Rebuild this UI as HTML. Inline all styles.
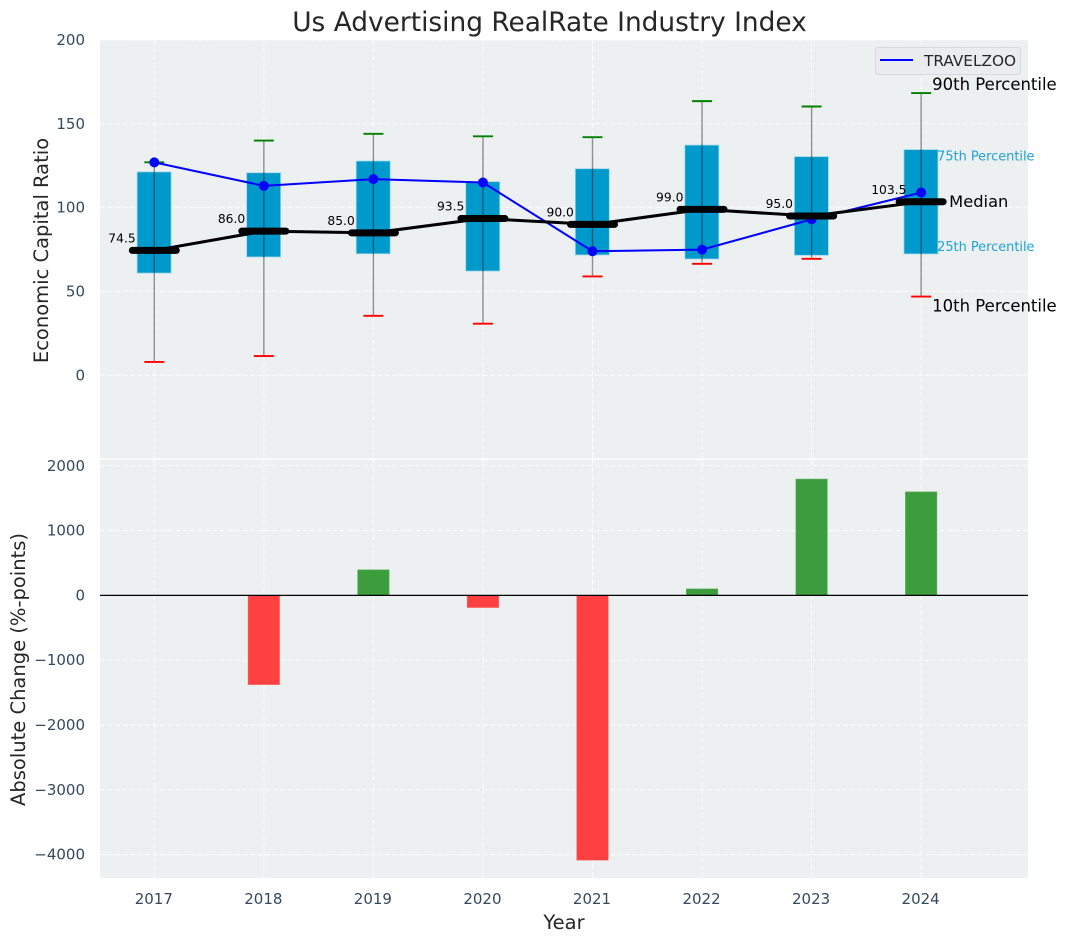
<!DOCTYPE html>
<html lang="en">
<head>
<meta charset="utf-8">
<title>Us Advertising RealRate Industry Index</title>
<style>
html,body{margin:0;padding:0;background:#fff;}
svg{display:block;font-family:"DejaVu Sans","Liberation Sans",sans-serif;}
</style>
</head>
<body>
<svg id="chart" width="1067" height="942" viewBox="0 0 1067 942" xmlns="http://www.w3.org/2000/svg"></svg>
<script>
const years = [2017, 2018, 2019, 2020, 2021, 2022, 2023, 2024];
const p10 = [8, 11.5, 35.5, 30.8, 59, 66.5, 69.5, 47];
const p25 = [61, 70.6, 72.5, 62.2, 71.8, 69.4, 71.6, 72.4];
const medians = [74.5, 86, 85, 93.5, 90, 99, 95, 103.5];
const p75 = [121.3, 120.8, 127.8, 115.5, 123.2, 137.3, 130.4, 134.6];
const p90 = [127, 140, 144, 142.5, 142, 163.5, 160.3, 168.3];
const company = [127, 113, 117, 115, 74, 75, 93, 109];
const changes = [0, -1376, 394, -187, -4085, 100, 1795, 1597];
const topTicks = [0, 50, 100, 150, 200];
const bottomTicks = [-4000, -3000, -2000, -1000, 0, 1000, 2000];

const svg = document.getElementById('chart');
const NS = 'http://www.w3.org/2000/svg';
const LEFT = 100, RIGHT = 1028;
const TOP1 = 40, BOT1 = 458.5, TOP2 = 460, BOT2 = 878;

function x(v) { return 154.3 + (v - 2017) * 109.55; }
function yTop(v) { return 375.4 - v * 1.6775; }
function yBot(v) { return 595.4 - v * 0.0648; }

function make(tag, attrs, parent, text) {
  const el = document.createElementNS(NS, tag);
  for (const k in attrs) el.setAttribute(k, attrs[k]);
  if (text !== undefined) el.textContent = text;
  (parent || svg).appendChild(el);
  return el;
}
function group(name) {
  const g = make('g', {});
  
  
  return g;
}

const bgTop = make('rect', {x: LEFT, y: TOP1, width: RIGHT - LEFT, height: BOT1 - TOP1, fill: '#ecf0f1'});


const bgBot = make('rect', {x: LEFT, y: TOP2, width: RIGHT - LEFT, height: BOT2 - TOP2, fill: '#ecf0f1'});



const gridG = group('grid-lines');
const gridStyle = {stroke: '#ffffff', 'stroke-width': 1, 'stroke-dasharray': '5 2.5', 'stroke-opacity': 0.85, fill: 'none'};
years.forEach(function (yr) {
  make('line', Object.assign({x1: x(yr), x2: x(yr), y1: TOP1, y2: BOT1}, gridStyle), gridG);
  make('line', Object.assign({x1: x(yr), x2: x(yr), y1: TOP2, y2: BOT2}, gridStyle), gridG);
});
topTicks.forEach(function (t) {
  make('line', Object.assign({x1: LEFT, x2: RIGHT, y1: yTop(t), y2: yTop(t)}, gridStyle), gridG);
});
bottomTicks.forEach(function (t) {
  make('line', Object.assign({x1: LEFT, x2: RIGHT, y1: yBot(t), y2: yBot(t)}, gridStyle), gridG);
});

const tickColor = '#34495e';
const yTickTop = group('top-y-axis-ticks');
topTicks.forEach(function (t) {
  make('text', {x: 85, y: yTop(t) + 5, 'text-anchor': 'end', 'font-size': 15, fill: tickColor}, yTickTop, String(t));
});
const yTickBot = group('bottom-y-axis-ticks');
bottomTicks.forEach(function (t) {
  make('text', {x: 85, y: yBot(t) + 5, 'text-anchor': 'end', 'font-size': 15, fill: tickColor}, yTickBot, String(t).replace('-', '\u2212'));
});
const xTickG = group('x-axis-ticks');
years.forEach(function (yr) {
  make('text', {x: x(yr) - 0.5, y: 904, 'text-anchor': 'middle', 'font-size': 15, fill: tickColor}, xTickG, String(yr));
});

// Percentile boxes
const boxG = group('percentile-boxes');
years.forEach(function (yr, i) {
  make('rect', {x: x(yr) - 17.2, y: yTop(p75[i]), width: 34, height: yTop(p25[i]) - yTop(p75[i]),
    fill: '#0099cc', stroke: '#9fd6e8', 'stroke-width': 0.8}, boxG);
});

// Whiskers
const whiskerG = group('percentile-whiskers');
years.forEach(function (yr, i) {
  make('line', {x1: x(yr), x2: x(yr), y1: yTop(p10[i]), y2: yTop(p90[i]), stroke: '#000', 'stroke-opacity': 0.42, 'stroke-width': 1.4}, whiskerG);
  make('line', {x1: x(yr) - 10, x2: x(yr) + 10, y1: yTop(p90[i]), y2: yTop(p90[i]), stroke: '#008000', 'stroke-width': 1.9}, whiskerG);
  make('line', {x1: x(yr) - 10, x2: x(yr) + 10, y1: yTop(p10[i]), y2: yTop(p10[i]), stroke: '#ff0000', 'stroke-width': 1.9}, whiskerG);
});

// Company line
const companyG = group('travelzoo-series');
make('polyline', {points: years.map(function (yr, i) { return x(yr) + ',' + yTop(company[i]); }).join(' '),
  fill: 'none', stroke: '#0000ff', 'stroke-width': 2}, companyG);
years.forEach(function (yr, i) {
  make('circle', {cx: x(yr), cy: yTop(company[i]), r: 5, fill: '#0000ff'}, companyG);
});

// Median line
const medianG = group('median-series');
make('polyline', {points: years.map(function (yr, i) { return x(yr) + ',' + yTop(medians[i]); }).join(' '),
  fill: 'none', stroke: '#000', 'stroke-width': 3}, medianG);
years.forEach(function (yr, i) {
  make('line', {x1: x(yr) - 22, x2: x(yr) + 22, y1: yTop(medians[i]), y2: yTop(medians[i]),
    stroke: '#000', 'stroke-width': 7, 'stroke-linecap': 'round'}, medianG);
});
const medLabelG = group('median-value-labels');
years.forEach(function (yr, i) {
  make('text', {x: x(yr) - 32.3, y: yTop(medians[i]) - 8, 'text-anchor': 'middle', 'font-size': 12.3, fill: '#000'}, medLabelG, medians[i].toFixed(1));
});

// Annotations for the last year
const annG = group('percentile-annotations');
const lastX = x(years[years.length - 1]);
const n = years.length - 1;
make('text', {x: lastX + 11, y: yTop(p90[n]) - 3, 'font-size': 16.5, fill: '#000'}, annG, '90th Percentile');
make('text', {x: lastX + 16, y: yTop(p75[n]) + 11, 'font-size': 12.9, fill: '#1fa3d0'}, annG, '75th Percentile');
make('text', {x: lastX + 28, y: yTop(medians[n]) + 5, 'font-size': 16.3, fill: '#000'}, annG, 'Median');
make('text', {x: lastX + 16, y: yTop(p25[n]) - 3, 'font-size': 12.9, fill: '#1fa3d0'}, annG, '25th Percentile');
make('text', {x: lastX + 11, y: yTop(p10[n]) + 15, 'font-size': 16.5, fill: '#000'}, annG, '10th Percentile');

// Change bars
const barG = group('absolute-change-bars');
years.forEach(function (yr, i) {
  const v = changes[i];
  if (v === 0) return;
  const y0 = yBot(Math.max(v, 0));
  const y1 = yBot(Math.min(v, 0));
  const bar = make('rect', {x: x(yr) - 15.7, y: y0, width: 31.4, height: y1 - y0,
    fill: v >= 0 ? '#3c9d3c' : '#ff4040', stroke: v >= 0 ? '#5aad5a' : '#ff6060', 'stroke-width': 0.6}, barG);
  
  
});
const zeroLine = make('line', {x1: LEFT, x2: RIGHT, y1: yBot(0), y2: yBot(0), stroke: '#000', 'stroke-width': 1.3});



// Titles
const title = make('text', {x: 549.5, y: 31, 'text-anchor': 'middle', 'font-size': 26.4, fill: '#262626'}, svg, 'Us Advertising RealRate Industry Index');


const yt1 = make('text', {transform: 'translate(48,250.5) rotate(-90)', 'text-anchor': 'middle', 'font-size': 19.5, fill: '#262626'}, svg, 'Economic Capital Ratio');


const yt2 = make('text', {transform: 'translate(25,669.5) rotate(-90)', 'text-anchor': 'middle', 'font-size': 19.5, fill: '#262626'}, svg, 'Absolute Change (%-points)');


const xt = make('text', {x: 564, y: 929, 'text-anchor': 'middle', 'font-size': 19.5, fill: '#262626'}, svg, 'Year');



// Legend
const legend = group('legend');
make('rect', {x: 875.5, y: 47.5, width: 145, height: 27, rx: 3, fill: '#eaecf0', stroke: '#d6d8dc', 'stroke-width': 1}, legend);
make('line', {x1: 880, x2: 913, y1: 60, y2: 60, stroke: '#0000ff', 'stroke-width': 2}, legend);
make('text', {x: 924, y: 66, 'font-size': 15.3, fill: '#262626'}, legend, 'TRAVELZOO');
</script>
</body>
</html>
